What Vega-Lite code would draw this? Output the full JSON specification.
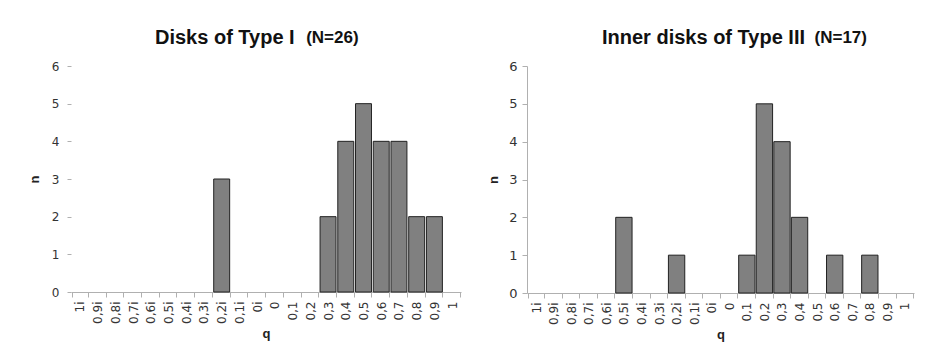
{
  "$schema": "https://vega.github.io/schema/vega-lite/v6.json",
  "background": "white",
  "padding": {"left": 28, "top": 28, "right": 10, "bottom": 5},
  "datasets": {
    "typeI": [
      {"q": "0,2i", "n": 3},
      {"q": "0,3", "n": 2},
      {"q": "0,4", "n": 4},
      {"q": "0,5", "n": 5},
      {"q": "0,6", "n": 4},
      {"q": "0,7", "n": 4},
      {"q": "0,8", "n": 2},
      {"q": "0,9", "n": 2}
    ],
    "typeIII": [
      {"q": "0,5i", "n": 2},
      {"q": "0,2i", "n": 1},
      {"q": "0,1", "n": 1},
      {"q": "0,2", "n": 5},
      {"q": "0,3", "n": 4},
      {"q": "0,4", "n": 2},
      {"q": "0,6", "n": 1},
      {"q": "0,8", "n": 1}
    ]
  },
  "config": {
    "view": {"stroke": null},
    "font": "Liberation Sans",
    "axis": {
      "labelFont": "DejaVu Sans",
      "labelFontSize": 12,
      "labelColor": "#333333",
      "titleFont": "Liberation Sans",
      "titleFontWeight": "bold",
      "titleFontSize": 13,
      "titleColor": "#222222",
      "domainColor": "#b0b0b0",
      "tickColor": "#b0b0b0",
      "grid": false
    },
    "title": {
      "font": "Liberation Sans", "fontSize": 20, "fontWeight": "bold", "color": "#111111",
      "subtitleFont": "Liberation Sans", "subtitleFontSize": 17, "subtitleFontWeight": "bold", "subtitleColor": "#111111",
      "subtitlePadding": -18, "anchor": "start", "frame": "group", "offset": 12
    }
  },
  "bounds": "flush",
  "spacing": 66,
  "hconcat": [
    {
      "data": {"name": "typeI"},
      "title": {"text": "Disks of Type I", "subtitle": "\u200b\u00a0\u00a0\u00a0\u00a0\u00a0\u00a0\u00a0\u00a0\u00a0\u00a0\u00a0\u00a0\u00a0\u00a0\u00a0\u00a0\u00a0\u00a0\u00a0\u00a0\u00a0\u00a0\u00a0\u00a0\u00a0\u00a0\u00a0\u00a0\u00a0\u00a0\u00a0\u00a0(N=26)", "dx": 84},
      "width": 390,
      "height": 226,
      "mark": {"type": "bar", "color": "#808080", "stroke": "#222222", "strokeWidth": 1},
      "encoding": {
        "x": {
          "field": "q", "type": "nominal", "title": "q",
          "scale": {"domain": ["1i","0,9i","0,8i","0,7i","0,6i","0,5i","0,4i","0,3i","0,2i","0,1i","0i","0","0,1","0,2","0,3","0,4","0,5","0,6","0,7","0,8","0,9","1"], "paddingInner": 0.1, "paddingOuter": 0.05},
          "axis": {"labelAngle": -90, "labelAlign": "right", "labelBaseline": "middle", "tickBand": "extent", "tickSize": 5, "labelPadding": 4, "titlePadding": 4}
        },
        "y": {
          "field": "n", "type": "quantitative", "title": "n",
          "scale": {"domain": [0, 6]},
          "axis": {"values": [0,1,2,3,4,5,6], "domain": false, "tickSize": 4, "labelPadding": 8, "titlePadding": 10, "labelFontSize": 12}
        }
      }
    },
    {
      "data": {"name": "typeIII"},
      "title": {"text": "Inner disks of Type III", "subtitle": "\u200b\u00a0\u00a0\u00a0\u00a0\u00a0\u00a0\u00a0\u00a0\u00a0\u00a0\u00a0\u00a0\u00a0\u00a0\u00a0\u00a0\u00a0\u00a0\u00a0\u00a0\u00a0\u00a0\u00a0\u00a0\u00a0\u00a0\u00a0\u00a0\u00a0\u00a0\u00a0\u00a0\u00a0\u00a0\u00a0\u00a0\u00a0\u00a0\u00a0\u00a0\u00a0\u00a0\u00a0\u00a0\u00a0(N=17)", "dx": 75},
      "width": 387,
      "height": 227,
      "mark": {"type": "bar", "color": "#808080", "stroke": "#222222", "strokeWidth": 1},
      "encoding": {
        "x": {
          "field": "q", "type": "nominal", "title": "q",
          "scale": {"domain": ["1i","0,9i","0,8i","0,7i","0,6i","0,5i","0,4i","0,3i","0,2i","0,1i","0i","0","0,1","0,2","0,3","0,4","0,5","0,6","0,7","0,8","0,9","1"], "paddingInner": 0.07, "paddingOuter": 0.05},
          "axis": {"labelAngle": -90, "labelAlign": "right", "labelBaseline": "middle", "tickBand": "extent", "tickSize": 5, "labelPadding": 4, "titlePadding": 4}
        },
        "y": {
          "field": "n", "type": "quantitative", "title": "n",
          "scale": {"domain": [0, 6]},
          "axis": {"values": [0,1,2,3,4,5,6], "domain": true, "tickSize": 5, "labelPadding": 5, "titlePadding": 8, "labelFontSize": 13}
        }
      }
    }
  ]
}
